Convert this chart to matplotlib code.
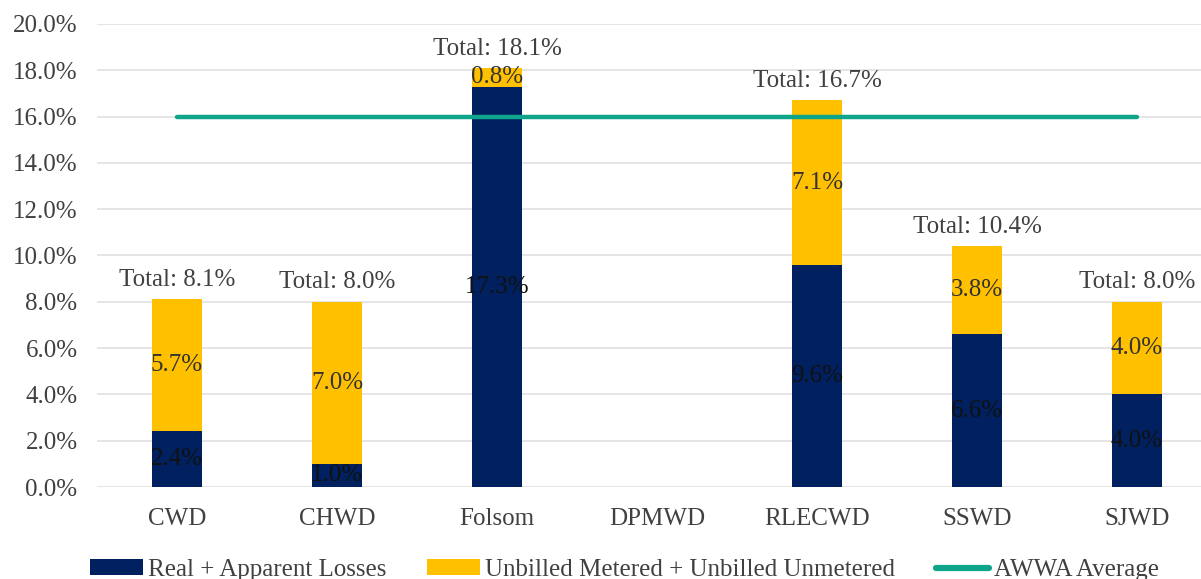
import numpy as np
import matplotlib
matplotlib.use("Agg")
import matplotlib.pyplot as plt
from matplotlib.patches import Patch
from matplotlib.lines import Line2D

# Water loss breakdown by district (percent of supply)
districts = ["CWD", "CHWD", "Folsom", "DPMWD", "RLECWD", "SSWD", "SJWD"]
real_apparent = [2.4, 1.0, 17.3, np.nan, 9.6, 6.6, 4.0]
unbilled = [5.7, 7.0, 0.8, np.nan, 7.1, 3.8, 4.0]
totals = [8.1, 8.0, 18.1, np.nan, 16.7, 10.4, 8.0]
awwa_average = 16.0
y_ticks = [0, 2, 4, 6, 8, 10, 12, 14, 16, 18, 20]

NAVY = "#002060"
GOLD = "#FFC000"
TEAL = "#0FA58A"
TEXT = "#404040"

plt.rcParams["font.family"] = ["Liberation Serif", "DejaVu Serif"]
plt.rcParams["font.size"] = 18

fig = plt.figure(figsize=(12.01, 5.79), dpi=100)
W, H = 1201, 579
ax = fig.add_axes([97 / W, 92 / H, (1201 - 97) / W, 463 / H])

x = np.arange(len(districts))
width = 0.31
ra = np.nan_to_num(real_apparent)
ub = np.nan_to_num(unbilled)

ax.bar(x, ra, width, color=NAVY, zorder=2)
ax.bar(x, ub, width, bottom=ra, color=GOLD, zorder=2)
ax.plot(x, [awwa_average] * len(x), color=TEAL, lw=3.2,
        solid_capstyle="round", zorder=3)

for i in range(len(districts)):
    if np.isnan(totals[i]):
        continue
    ax.text(x[i], ra[i] / 2, f"{real_apparent[i]:.1f}%", ha="center",
            va="center", color="#111111", zorder=4)
    ax.text(x[i], ra[i] + ub[i] / 2, f"{unbilled[i]:.1f}%", ha="center",
            va="center", color="#333333", zorder=4)
    ax.annotate(f"Total: {totals[i]:.1f}%", (x[i], totals[i]),
                xytext=(0, 6), textcoords="offset points", ha="center",
                va="bottom", color=TEXT, zorder=4)

ax.set_xlim(-0.5, -0.5 + (1201 - 97) / 160)
ax.set_ylim(0, 20)
ax.set_yticks(y_ticks)
ax.set_yticklabels([f"{v:.1f}%" for v in y_ticks], color=TEXT)
ax.set_xticks(x)
ax.set_xticklabels(districts, color=TEXT)
ax.tick_params(axis="both", length=0)
ax.tick_params(axis="y", pad=14)
ax.tick_params(axis="x", pad=15)
ax.grid(axis="y", color="#E3E3E3", lw=1.3, zorder=0)
ax.set_axisbelow(True)
for s in ax.spines.values():
    s.set_visible(False)

handles = [
    Patch(facecolor=NAVY, label="Real + Apparent Losses"),
    Patch(facecolor=GOLD, label="Unbilled Metered + Unbilled Unmetered"),
    Line2D([0], [0], color=TEAL, lw=4.5, solid_capstyle="round", label="AWWA Average"),
]
fig.legend(handles=handles, loc="center", bbox_to_anchor=(0.52, 1 - 570 / H),
           ncol=3, frameon=False, handlelength=2.1, handleheight=0.6,
           handletextpad=0.2, columnspacing=1.65, labelcolor=TEXT)

fig.savefig("out.png", dpi=100)
